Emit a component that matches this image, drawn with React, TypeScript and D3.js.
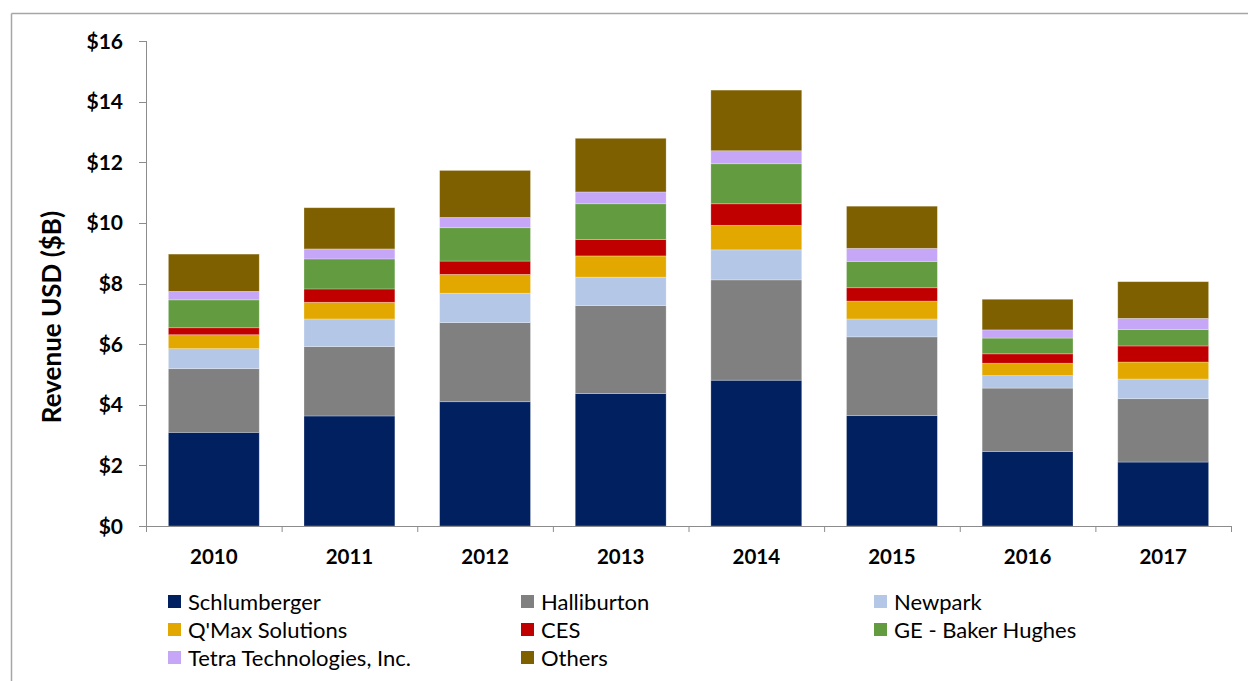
import React from "react";
import * as d3 from "d3";

const years = ["2010", "2011", "2012", "2013", "2014", "2015", "2016", "2017"];
const seriesNames = [
  "Schlumberger",
  "Halliburton",
  "Newpark",
  "Q'Max Solutions",
  "CES",
  "GE - Baker Hughes",
  "Tetra Technologies, Inc.",
  "Others",
];
const schlumberger = [3.09, 3.63, 4.1, 4.37, 4.81, 3.64, 2.46, 2.11];
const halliburton = [2.1, 2.29, 2.61, 2.9, 3.31, 2.6, 2.09, 2.09];
const newpark = [0.66, 0.91, 0.97, 0.94, 0.99, 0.59, 0.41, 0.65];
const qmax = [0.46, 0.55, 0.62, 0.7, 0.81, 0.59, 0.41, 0.56];
const ces = [0.23, 0.44, 0.44, 0.54, 0.71, 0.44, 0.31, 0.53];
const geBaker = [0.92, 0.99, 1.1, 1.18, 1.32, 0.87, 0.52, 0.54];
const tetra = [0.28, 0.33, 0.34, 0.39, 0.43, 0.43, 0.27, 0.37];
const others = [1.23, 1.36, 1.55, 1.77, 2.0, 1.39, 1.01, 1.21];
const yTicks = [0, 2, 4, 6, 8, 10, 12, 14, 16];
const colors = ["#002060", "#808080", "#B4C7E7", "#E2A800", "#C00000", "#629B40", "#C5A6F7", "#7F6000"];

const allSeries = [schlumberger, halliburton, newpark, qmax, ces, geBaker, tetra, others];

export default function App() {
  const W = 1248;
  const H = 681;
  const left = 146;
  const right = 1231;
  const top = 41;
  const bottom = 526;
  const font = "Lato, 'Open Sans', sans-serif";

  const x = d3.scaleBand<string>().domain(years).range([left, right]).paddingInner(0.33).paddingOuter(0.165);
  const xb = d3.scaleBand<string>().domain(years).range([left, right]);
  const y = d3.scaleLinear().domain([0, 16]).range([bottom, top]);

  const table = years.map((yr, i) => {
    const row: any = { year: yr };
    seriesNames.forEach((s, j) => (row[s] = allSeries[j][i]));
    return row;
  });
  const stacked = d3.stack<any>().keys(seriesNames)(table);

  const legendCols = [168, 521, 874];
  const legendRows = [602, 630, 658];

  return (
    <svg width={W} height={H} style={{ position: "absolute", left: 0, top: 0, background: "#fff" }}>
      <line x1={11.5} y1={13.5} x2={1248} y2={13.5} stroke="#a6a6a6" strokeWidth={1.5} />
      <line x1={11.5} y1={13.5} x2={11.5} y2={681} stroke="#a6a6a6" strokeWidth={1.5} />

      {stacked.map((layer, j) => (
        <g key={layer.key}>
          {layer.map((d, i) => (
            <rect
              key={i}
              x={x(years[i])}
              y={y(d[1])}
              width={x.bandwidth()}
              height={y(d[0]) - y(d[1])}
              fill={colors[j]}
              stroke="rgba(255,255,255,0.35)"
              strokeWidth={0.75}
            />
          ))}
        </g>
      ))}

      {/* y axis */}
      <line x1={left + 0.5} y1={top} x2={left + 0.5} y2={bottom} stroke="#8c8c8c" strokeWidth={1} />
      {yTicks.map((t) => (
        <g key={t}>
          <line x1={left - 7} x2={left} y1={Math.round(y(t)) + 0.5} y2={Math.round(y(t)) + 0.5} stroke="#8c8c8c" />
          <text x={123} y={y(t)} dy="0.36em" textAnchor="end" fontFamily={font} fontWeight={700} fontSize={21} fill="#000">
            {"$" + t}
          </text>
        </g>
      ))}

      {/* x axis */}
      <line x1={left} y1={bottom + 0.5} x2={right} y2={bottom + 0.5} stroke="#8c8c8c" strokeWidth={1} />
      {years.map((yr) => (
        <g key={yr}>
          <line x1={xb(yr)! + 0.5} x2={xb(yr)! + 0.5} y1={bottom} y2={bottom + 6} stroke="#8c8c8c" />
          <text x={xb(yr)! + xb.bandwidth() / 2} y={564} textAnchor="middle" fontFamily={font} fontWeight={700} fontSize={20.5} fill="#000">
            {yr}
          </text>
        </g>
      ))}
      <line x1={right + 0.5} x2={right + 0.5} y1={bottom} y2={bottom + 6} stroke="#8c8c8c" />

      <text
        transform={`translate(61, 317) rotate(-90)`}
        textAnchor="middle"
        fontFamily={font}
        fontWeight={700}
        fontSize={26}
        fill="#000"
      >
        Revenue USD ($B)
      </text>

      {seriesNames.map((s, j) => {
        const cx = legendCols[j % 3];
        const cy = legendRows[Math.floor(j / 3)];
        return (
          <g key={s}>
            <rect x={cx} y={cy - 7} width={13} height={13} fill={colors[j]} />
            <text x={cx + 20} y={cy} dy="0.36em" fontFamily={font} fontSize={22} fill="#000">
              {s}
            </text>
          </g>
        );
      })}
    </svg>
  );
}
